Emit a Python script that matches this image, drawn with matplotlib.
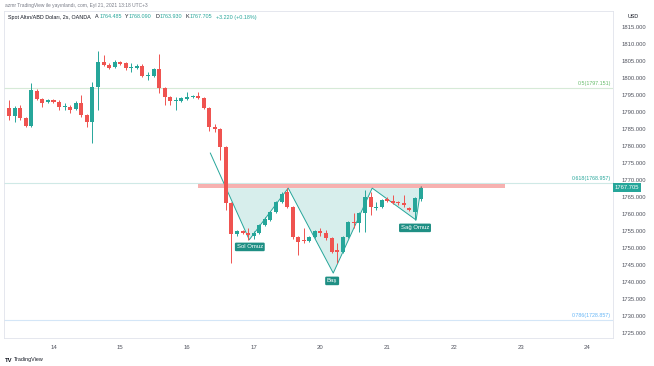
import numpy as np
import matplotlib
matplotlib.use("Agg")
import matplotlib.pyplot as plt
from matplotlib.patches import Rectangle, Polygon
from matplotlib.transforms import blended_transform_factory

# 2-hour candles, Sep 13 - Sep 21 2021
opens = [1791.2, 1788.8, 1791.2, 1788.2, 1785.9, 1796.2, 1793.8, 1792.9, 1793.5, 1792.9,
         1791.5, 1791.5, 1790.9, 1792.6, 1789.1, 1787.1, 1797.4, 1804.7, 1803.8, 1803.2,
         1804.7, 1804.4, 1802.9, 1802.9, 1803.5, 1800.6, 1800.6, 1802.6, 1797.1, 1794.4,
         1793.2, 1793.2, 1793.8, 1794.4, 1794.7, 1794.1, 1791.2, 1785.6, 1785.0, 1779.7,
         1763.2, 1754.1, 1755.0, 1754.4, 1753.5, 1754.4, 1756.8, 1758.2, 1760.6, 1763.5,
         1766.5, 1762.1, 1753.2, 1752.1, 1752.1, 1753.2, 1755.0, 1754.4, 1752.9, 1749.4,
         1748.8, 1753.2, 1757.6, 1757.4, 1760.3, 1765.0, 1761.8, 1762.1, 1764.4, 1763.8,
         1763.5, 1763.2, 1761.8, 1760.6, 1764.485]
highs = [1793.5, 1791.8, 1792.0, 1788.6, 1798.5, 1796.8, 1794.0, 1793.8, 1793.7, 1793.5,
         1792.6, 1792.0, 1793.2, 1795.0, 1789.4, 1798.8, 1807.9, 1806.8, 1804.5, 1805.3,
         1805.0, 1804.7, 1804.4, 1804.1, 1804.0, 1801.8, 1803.0, 1807.1, 1797.4, 1794.7,
         1794.4, 1794.4, 1795.9, 1795.0, 1795.9, 1794.4, 1791.5, 1786.5, 1785.3, 1780.0,
         1763.5, 1755.3, 1755.3, 1755.9, 1755.0, 1757.1, 1759.1, 1760.9, 1763.8, 1766.5,
         1767.6, 1762.4, 1753.5, 1755.9, 1753.5, 1755.3, 1755.9, 1755.3, 1753.2, 1751.5,
         1753.5, 1757.9, 1760.3, 1760.6, 1767.1, 1766.5, 1763.5, 1764.4, 1765.0, 1765.6,
         1763.8, 1765.6, 1762.1, 1765.0, 1768.090]
lows = [1787.6, 1787.0, 1787.5, 1785.5, 1785.6, 1793.5, 1791.5, 1792.6, 1792.7, 1790.6,
        1790.6, 1789.7, 1790.6, 1788.5, 1785.6, 1780.9, 1790.6, 1803.5, 1802.5, 1802.9,
        1803.8, 1802.3, 1801.8, 1802.6, 1800.3, 1799.4, 1800.3, 1795.6, 1792.1, 1792.1,
        1790.6, 1792.9, 1793.5, 1794.1, 1793.8, 1790.9, 1784.4, 1784.1, 1775.9, 1761.2,
        1745.6, 1753.5, 1754.1, 1752.4, 1752.6, 1754.1, 1756.5, 1757.9, 1760.3, 1763.2,
        1761.8, 1752.6, 1747.9, 1751.5, 1751.8, 1752.9, 1753.5, 1752.4, 1748.5, 1745.6,
        1748.5, 1752.9, 1755.9, 1754.7, 1754.7, 1759.7, 1761.2, 1761.8, 1763.5, 1762.9,
        1762.6, 1762.1, 1760.9, 1758.2, 1763.930]
closes = [1788.8, 1791.2, 1788.2, 1785.9, 1796.5, 1793.8, 1792.6, 1793.5, 1792.9, 1791.5,
          1791.6, 1790.6, 1792.6, 1789.1, 1787.1, 1797.4, 1804.7, 1803.8, 1802.9, 1804.7,
          1804.1, 1802.9, 1803.0, 1803.5, 1800.6, 1800.7, 1802.6, 1797.1, 1794.4, 1793.2,
          1793.3, 1794.1, 1794.4, 1794.7, 1794.1, 1791.2, 1785.6, 1785.0, 1779.7, 1763.2,
          1754.1, 1755.0, 1754.4, 1753.8, 1754.4, 1756.8, 1758.5, 1760.6, 1763.5, 1765.9,
          1762.1, 1753.2, 1751.8, 1752.0, 1753.2, 1755.0, 1754.4, 1752.9, 1748.8, 1748.8,
          1753.2, 1757.6, 1757.4, 1760.3, 1765.0, 1762.1, 1761.9, 1764.1, 1763.8, 1763.2,
          1763.2, 1762.6, 1761.2, 1764.7, 1767.705]

day_ticks = [8, 20, 32, 44, 56, 68, 80, 92, 104]
day_labels = ["14", "15", "16", "17", "20", "21", "22", "23", "24"]
price_ticks = np.arange(1725, 1816, 5)

fib_labels = ["0.5(1797.151)", "0.618(1768.957)", "0.786(1728.857)"]
fib_prices = [1797.151, 1768.957, 1728.857]
fib_line_colors = ["#d6ead7", "#cfe9e6", "#d4e6f7"]
fib_text_colors = ["#66bb6a", "#26a69a", "#64b5f6"]

# inverse head & shoulders drawing
pattern_idx = [36.2, 43.2, 50.2, 58.3, 65.3, 73.2, 74.1]
pattern_price = [1777.9, 1752.4, 1767.6, 1742.6, 1767.6, 1758.2, 1767.9]
neck_price = 1767.6
band_x = (34.0, 89.2)
band_y = (1767.5, 1768.8)

pattern_labels = ["Sol Omuz", "Baş", "Sağ Omuz"]
label_idx = [43.3, 58.1, 73.0]
label_price = [1750.3, 1740.3, 1755.9]

header_name = "Spot Altın/ABD Doları, 2s, OANDA"
header_keys = ["A", "Y", "D", "K"]
header_vals = ["1764.485", "1768.090", "1763.930", "1767.705"]
header_change = "+3.220 (+0.18%)"
last_price = 1767.705

GREEN = "#26a69a"
RED = "#ef5350"
TXT = "#131722"
plt.rcParams["font.family"] = ["Liberation Sans", "DejaVu Sans"]

W, H = 654, 366
fig = plt.figure(figsize=(W / 100, H / 100), dpi=100)
ax = fig.add_axes([4 / W, 28 / H, 609 / W, 327 / H])

idx = np.arange(len(opens))
o = np.array(opens)
c = np.array(closes)
up = c >= o
cols = np.where(up, GREEN, RED)

# pattern fill + lines
px = np.array(pattern_idx)
py = np.array(pattern_price)
t = (py[0] - neck_price) / (py[0] - py[1])
cross_x = px[0] + t * (px[1] - px[0])
poly = [(cross_x, neck_price)] + list(zip(px[1:], py[1:])) + [(px[-1], neck_price)]
ax.add_patch(Polygon(poly, closed=True, facecolor=GREEN, alpha=0.18, edgecolor="none", zorder=1))
ax.plot(px, py, color=GREEN, lw=0.7, zorder=2)

# fib levels
for lab, pr, lc, tc in zip(fib_labels, fib_prices, fib_line_colors, fib_text_colors):
    ax.axhline(pr, color=lc, lw=0.8, zorder=0)
    ax.text(108.2, pr + 0.6, lab, color=tc, fontsize=3.8, ha="right", va="bottom", zorder=5)

# candles
ax.vlines(idx, lows, highs, colors=cols, lw=0.7, zorder=3)
body = np.maximum(np.abs(c - o), 0.25)
ax.bar(idx, body, bottom=np.minimum(o, c), width=0.72, color=cols, zorder=3, linewidth=0)

# neckline band
ax.add_patch(Rectangle((band_x[0], band_y[0]), band_x[1] - band_x[0], band_y[1] - band_y[0],
                       facecolor=RED, alpha=0.45, edgecolor="none", zorder=4))

for lab, lx, ly in zip(pattern_labels, label_idx, label_price):
    ax.text(lx, ly, lab, color="white", fontsize=4.3, ha="center", va="center", zorder=6,
            bbox=dict(boxstyle="round,pad=0.3,rounding_size=0.2", fc="#1f8f84", ec="none"))

ax.set_xlim(-0.9, 108.6)
ax.set_ylim(1723.5, 1819.7)
ax.set_xticks(day_ticks)
ax.set_xticklabels(day_labels)
ax.set_yticks(price_ticks)
ax.set_yticklabels([f"{v:.3f}" for v in price_ticks])
ax.yaxis.tick_right()
ax.tick_params(axis="x", length=0, pad=5, labelsize=4.3, labelcolor="#50535e")
ax.tick_params(axis="y", length=0, pad=6, labelsize=4.2, labelcolor="#50535e")
for s in ax.spines.values():
    s.set_color("#e0e3eb")
    s.set_linewidth(0.6)

tr = blended_transform_factory(ax.transAxes, ax.transData)
ax.text(1.003, last_price, f"{last_price:.3f}", transform=tr, color="white", fontsize=4.2,
        ha="left", va="center", zorder=7,
        bbox=dict(boxstyle="square,pad=0.35", fc=GREEN, ec="none"))

fig.text(633 / W, 1 - 16 / H, "USD", fontsize=3.9, color=TXT, ha="center", va="center")

fig.text(5 / W, 1 - 5 / H, "azmr TradingView ile yayınlandı, com, Eyl 21, 2021 13:18 UTC+3",
         fontsize=3.5, color="#787b86", va="center")

# header line, placed piece by piece
renderer = fig.canvas.get_renderer()
xpos = 8.0
ypos = 1 - 17 / H


def put(txt, color, gap):
    global xpos
    tt = fig.text(xpos / W, ypos, txt, fontsize=3.9, color=color, va="center")
    xpos += tt.get_window_extent(renderer=renderer).width + gap


put(header_name, TXT, 4.5)
for k, v in zip(header_keys, header_vals):
    put(k, TXT, 0.3)
    put(v, GREEN, 3.5)
put(header_change, GREEN, 0)

fig.text(5 / W, 1 - 360 / H, "TV", fontsize=4.2, color=TXT, weight="bold", va="center")
fig.text(14 / W, 1 - 360 / H, "TradingView", fontsize=3.9, color=TXT, va="center")

fig.savefig("out.png", dpi=100, facecolor="white")
